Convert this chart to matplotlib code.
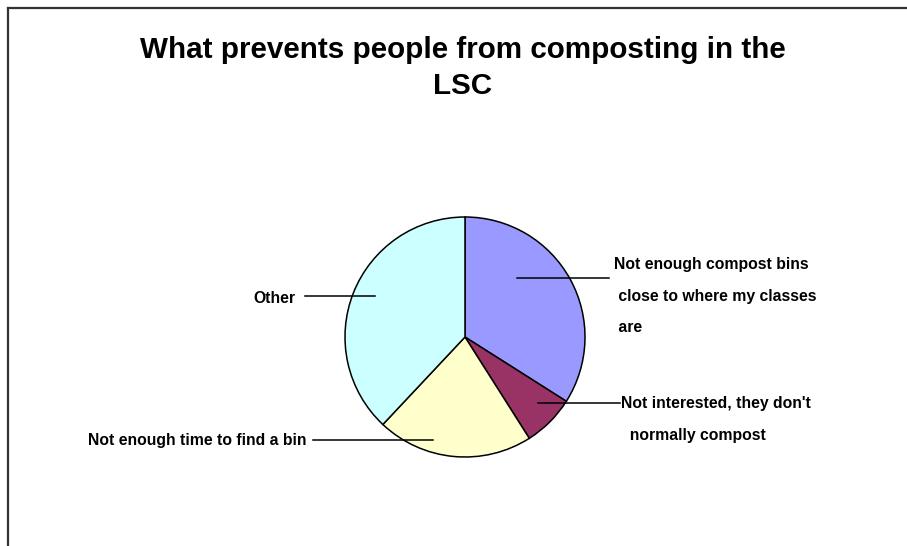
import matplotlib
matplotlib.use("Agg")
import matplotlib.pyplot as plt
from matplotlib.lines import Line2D

# Reasons people gave for not composting (percent of responses)
REASONS = [
    "Not enough compost bins\n close to where my classes\n are",
    "Not interested, they don't\n  normally compost",
    "Not enough time to find a bin",
    "Other",
]
SHARES = [34, 7, 21, 38]
COLORS = ["#9999FF", "#993366", "#FFFFCC", "#CCFFFF"]

W, H = 907, 546

fig = plt.figure(figsize=(W / 100, H / 100), dpi=100)
ax = fig.add_axes([0, 0, 1, 1])

# chart area border (only top and left are in view)
fig.add_artist(Line2D([8 / W, 8 / W], [0, 1 - 8 / H], color="#333333", lw=1.6))
fig.add_artist(Line2D([8 / W, 1], [1 - 8 / H, 1 - 8 / H], color="#333333", lw=1.6))

# pie drawn in a flipped-y data space, so go counterclockwise to end up clockwise
wedges, _ = ax.pie(
    SHARES,
    colors=COLORS,
    startangle=-90,
    counterclock=True,
    center=(465, 337),
    radius=120,
    wedgeprops=dict(edgecolor="black", linewidth=1.1),
    frame=True,
)
ax.set_xlim(0, W)
ax.set_ylim(H, 0)
ax.set_aspect("equal")
ax.axis("off")

title_font = dict(family="Liberation Sans", weight="bold", fontsize=21.3, color="black")
ax.text(463, 58, "What prevents people from composting in the", ha="center",
        va="baseline", **title_font)
ax.text(463, 94, "LSC", ha="center", va="baseline", **title_font)

label_font = dict(family="Liberation Sans", weight="bold", fontsize=11.3,
                  color="black", linespacing=2.38)

# label text positions and leader lines
ax.text(614, 257, REASONS[0], ha="left", va="top", **label_font)
ax.plot([517, 609], [278, 278], color="black", lw=1.1)

ax.text(621, 396, REASONS[1], ha="left", va="top", **label_font)
ax.plot([538, 620], [403, 403], color="black", lw=1.1)

ax.text(88, 445, REASONS[2], ha="left", va="baseline", **label_font)
ax.plot([313, 433], [440, 440], color="black", lw=1.1)

ax.text(253, 303, REASONS[3], ha="left", va="baseline", **label_font)
ax.plot([305, 375], [296, 296], color="black", lw=1.1)

fig.savefig("out.png", dpi=100, facecolor="white")
